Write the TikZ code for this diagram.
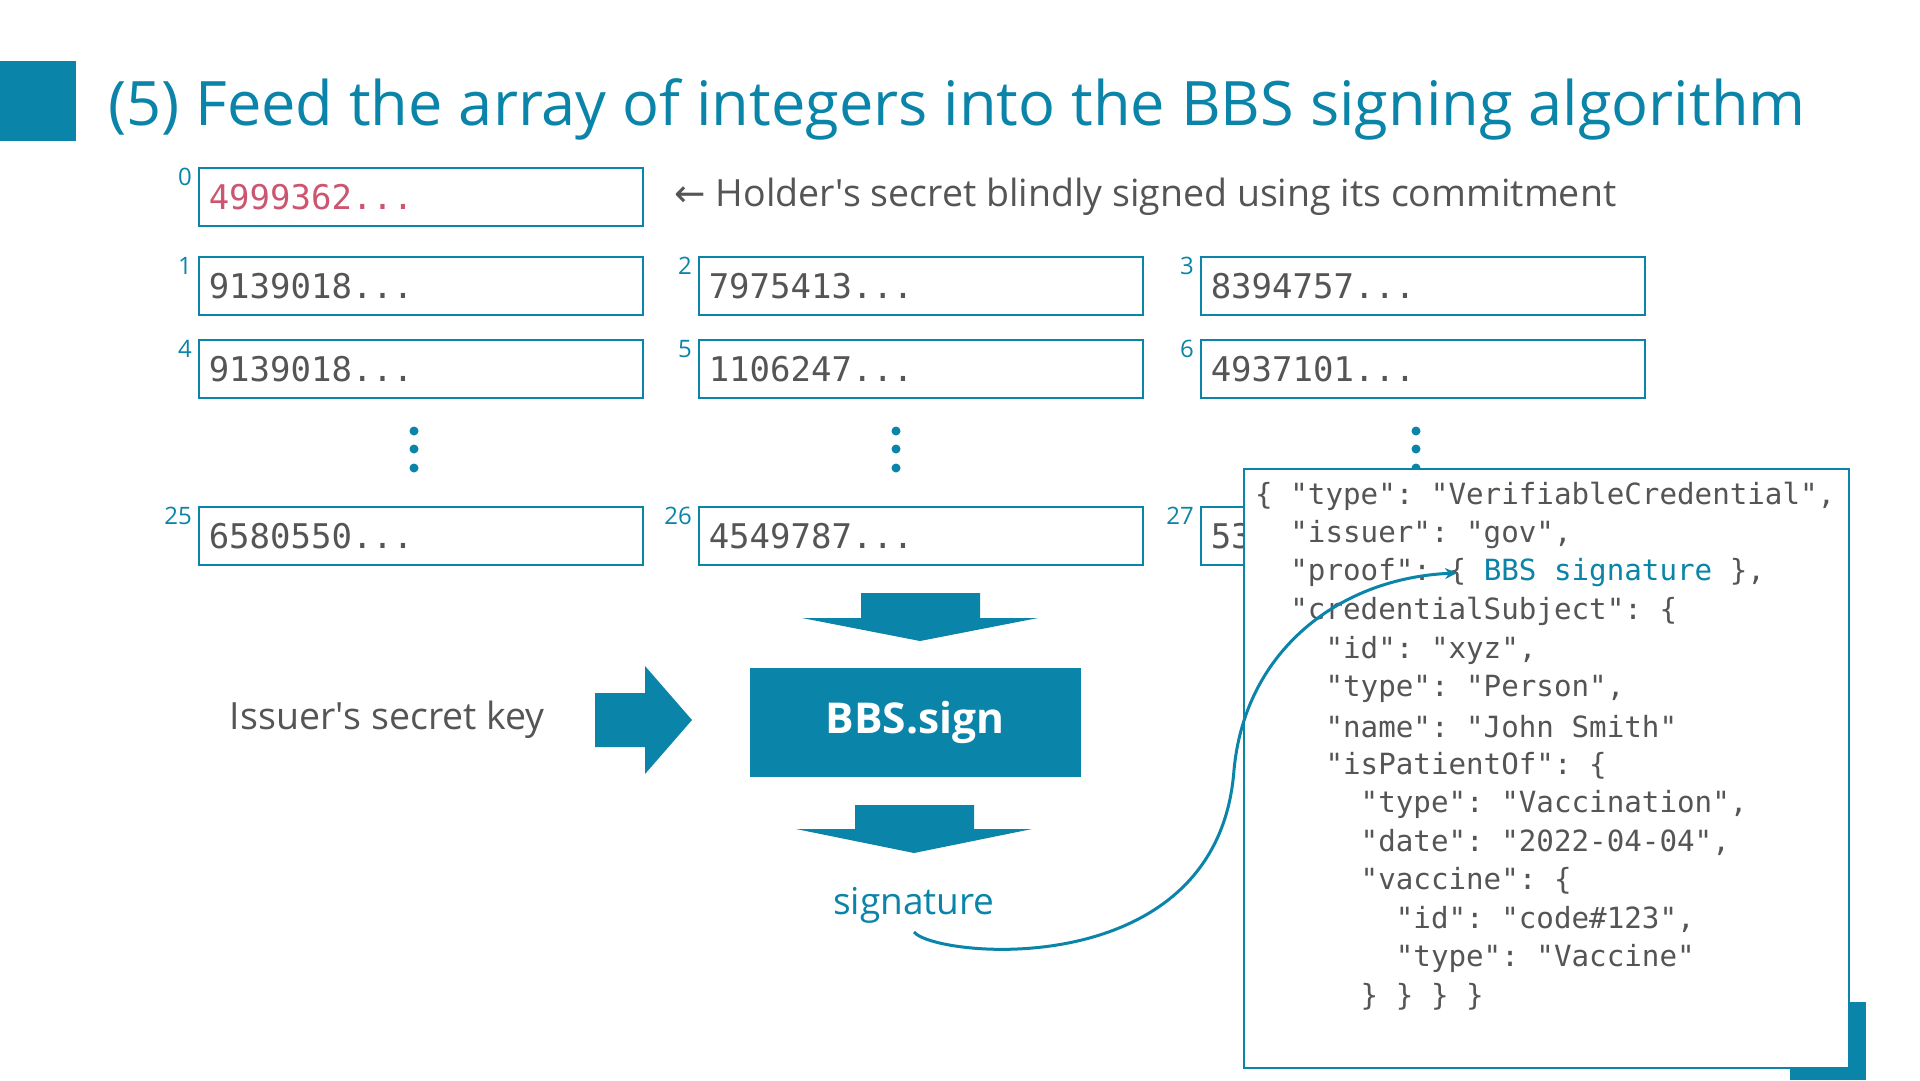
\documentclass[tikz,border=0pt]{standalone}
\usepackage{fontspec}
\setmainfont{Open Sans}
\setmonofont{DejaVu Sans Mono}
\newfontfamily\arrowfont{DejaVu Sans}
\usetikzlibrary{positioning,arrows.meta}

\definecolor{bbsblue}{HTML}{0A84A8}
\definecolor{txtgray}{HTML}{555555}
\definecolor{secretred}{HTML}{CC5670}

\tikzset{
  numbox/.style={draw=bbsblue, line width=1.5pt, anchor=north west,
    minimum height=58pt, text width=424pt, inner xsep=10pt, inner ysep=0pt,
    align=left, text=txtgray, font=\ttfamily\fontsize{34}{40}\selectfont},
  idx/.style={anchor=north east, inner sep=0pt, xshift=-6pt, yshift=-1pt,
    text=bbsblue, font=\fontsize{24}{27}\selectfont},
  bigarrow/.style={fill=bbsblue, draw=none},
  jsonline/.style={anchor=west, inner sep=0pt, text=txtgray,
    font=\ttfamily\fontsize{29.2}{34}\selectfont},
  sigline/.style={draw=bbsblue, line width=3pt, -{Stealth[length=12pt,width=11pt]}}
}

\begin{document}
\begin{tikzpicture}[x=1pt,y=-1pt]
  \useasboundingbox (0,0) rectangle (1920,1080);
  \fill[white] (0,0) rectangle (1920,1080);

  % title bar
  \fill[bbsblue] (0,61) rectangle (76,141);
  \node[anchor=base west, inner sep=0pt, text=bbsblue,
    font=\fontsize{61.3}{72}\selectfont] (title) at (108,125)
    {(5) Feed the array of integers into the BBS signing algorithm};

  % array of integers
  \node[numbox, text=secretred, label={[idx]north west:0}] (b0) at (198,167) {4999362...};
  \node[right=31pt of b0, inner sep=0pt, text=txtgray, font=\fontsize{37.5}{44}\selectfont] (holder)
    {{\arrowfont ←} Holder\textquotesingle s secret blindly signed using its commitment};

  \foreach \n/\x/\y/\val in {1/198/256/9139018, 2/698/256/7975413, 3/1200/256/8394757,
                             4/198/339/9139018, 5/698/339/1106247, 6/1200/339/4937101,
                             25/198/506/6580550, 26/698/506/4549787} {
    \node[numbox, label={[idx]north west:\n}] (b\n) at (\x,\y) {\val...};
  }
  \node[numbox, label={[idx]north west:27}] (b27) at (1200,506) {53};

  % vertical dots
  \foreach \x in {414, 896, 1416} {
    \foreach \y in {431, 449, 468} {
      \fill[bbsblue] (\x,\y) circle (4.5pt);
    }
  }

  % signing
  \fill[bigarrow] (861,593) -- (980,593) -- (980,618) -- (1038,618) -- (920,641)
    -- (802,618) -- (861,618) -- cycle;
  \node[fill=bbsblue, minimum width=331pt, minimum height=109pt, text=white,
    font=\bfseries\fontsize{42.5}{50}\selectfont] (sign) at (915,722) {BBS.sign};
  \node[anchor=east, inner sep=0pt, text=txtgray, font=\fontsize{37.5}{44}\selectfont] (skey)
    at (545,720) {Issuer\textquotesingle s secret key};
  \fill[bigarrow] (595,693) -- (645,693) -- (645,666) -- (692,720) -- (645,774)
    -- (645,747) -- (595,747) -- cycle;
  \fill[bigarrow] (855,805) -- (974,805) -- (974,829) -- (1032,829) -- (914,853)
    -- (796,829) -- (855,829) -- cycle;
  \node[text=bbsblue, inner sep=0pt, font=\fontsize{37}{44}\selectfont] (sig) at (914,905) {signature};

  % credential
  \fill[bbsblue] (1790,1002) rectangle (1866,1080);
  \draw[bbsblue, line width=1.5pt, fill=white] (1244,469) rectangle (1849,1068);
  \foreach \i/\ind/\ln in {
      1/0/{\{ "type": "VerifiableCredential",},
      2/2/{"issuer": "gov",},
      3/2/{"proof": \{ \textcolor{bbsblue}{BBS signature} \},},
      4/2/{"credentialSubject": \{},
      5/4/{"id": "xyz",},
      6/4/{"type": "Person",},
      7/4/{"name": "John Smith"},
      8/4/{"isPatientOf": \{},
      9/6/{"type": "Vaccination",},
      10/6/{"date": "2022-04-04",},
      11/6/{"vaccine": \{},
      12/8/{"id": "code\#123",},
      13/8/{"type": "Vaccine"},
      14/6/{\} \} \} \}}} {
    \node[jsonline] (j\i) at ({1255+\ind*17.58},{496+(\i-1)*38.5}) {\ln};
  }
  \coordinate (proofbrace) at (1457,573);

  \draw[sigline] ([yshift=-27pt]sig.center) .. controls (935,958) and (1218,985) .. (1234,770)
    .. controls (1245,650) and (1340,578) .. (proofbrace);
\end{tikzpicture}
\end{document}
